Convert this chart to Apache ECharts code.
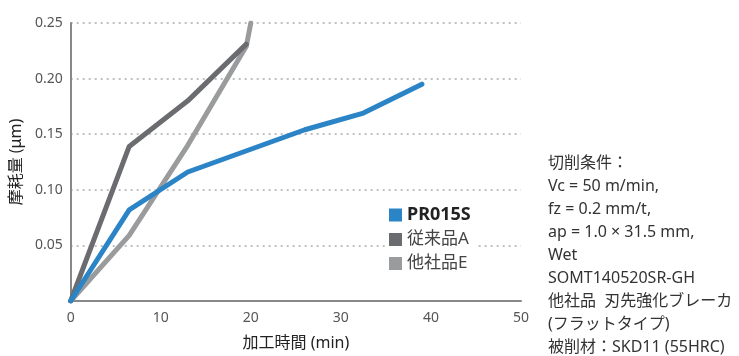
<!DOCTYPE html>
<html>
<head>
<meta charset="utf-8">
<script src="https://cdn.jsdelivr.net/npm/echarts@6/dist/echarts.min.js"></script>
<style>
  html, body { margin: 0; padding: 0; background: #fff; }
  #chart { width: 739px; height: 356px; }
</style>
</head>
<body>
<div id="chart"></div>
<script>
// 加工時間 (min) / 摩耗量 (μm)
const seriesNames = ["PR015S", "従来品A", "他社品E"];
const pr015sData = [[0, 0], [6.5, 0.082], [13, 0.116], [26, 0.154], [32.5, 0.169], [39, 0.195]];
const juraiData = [[0, 0], [6.5, 0.139], [13, 0.18], [19.5, 0.231]];
const tashaData = [[0, 0], [6.5, 0.059], [13, 0.14], [19.5, 0.229], [20, 0.25]];
const colors = ["#2b84c6", "#6b6c6f", "#9a9b9d"];
const noteLines = [
  "切削条件：",
  "Vc = 50 m/min,",
  "fz = 0.2 mm/t,",
  "ap = 1.0 × 31.5 mm,",
  "Wet",
  "SOMT140520SR-GH",
  "他社品  刃先強化ブレーカ",
  "(フラットタイプ)",
  "被削材：SKD11 (55HRC)"
];

const chart = echarts.init(document.getElementById("chart"));
const font = "'Noto Sans', 'Noto Sans CJK JP', sans-serif";

const option = {
  animation: false,
  textStyle: { fontFamily: font },
  grid: { left: 68, right: 218, top: 23, bottom: 53 },
  xAxis: {
    type: "value",
    min: 0,
    max: 50,
    interval: 10,
    name: "加工時間 (min)",
    nameLocation: "middle",
    nameGap: 34,
    nameTextStyle: { color: "#222", fontSize: 16 },
    axisLine: { lineStyle: { color: "#888", width: 2 } },
    axisTick: { show: false },
    splitLine: { show: false },
    axisLabel: { color: "#555", fontSize: 14, margin: 10 }
  },
  yAxis: {
    type: "value",
    min: 0,
    max: 0.25,
    interval: 0.05,
    name: "摩耗量 (μm)",
    nameLocation: "middle",
    nameGap: 42,
    nameTextStyle: { color: "#222", fontSize: 16 },
    axisLine: { show: true, lineStyle: { color: "#888", width: 2 } },
    axisTick: { show: false },
    splitLine: {
      lineStyle: { type: [2, 4], color: "#aaa", width: 1.5 }
    },
    axisLabel: {
      color: "#555",
      fontSize: 14,
      margin: 8,
      formatter: function (v) {
        return v === 0 ? "" : v.toFixed(2);
      }
    }
  },
  legend: {
    left: 385,
    top: 204,
    orient: "vertical",
    icon: "rect",
    itemWidth: 13,
    itemHeight: 13,
    itemGap: 7,
    backgroundColor: "#fff",
    padding: [2, 6, 2, 4],
    textStyle: { color: "#444", fontSize: 17 },
    data: [
      { name: seriesNames[0], textStyle: { fontWeight: "bold", color: "#222", fontSize: 18 } },
      { name: seriesNames[1] },
      { name: seriesNames[2] }
    ]
  },
  series: [
    {
      name: seriesNames[0],
      type: "line",
      data: pr015sData,
      z: 4,
      symbol: "none",
      color: colors[0],
      lineStyle: { width: 5, color: colors[0], cap: "round", join: "round" }
    },
    {
      name: seriesNames[1],
      type: "line",
      data: juraiData,
      z: 3,
      symbol: "none",
      color: colors[1],
      lineStyle: { width: 5, color: colors[1], cap: "round", join: "round" }
    },
    {
      name: seriesNames[2],
      type: "line",
      data: tashaData,
      z: 2,
      symbol: "none",
      color: colors[2],
      lineStyle: { width: 5, color: colors[2], cap: "round", join: "round" }
    }
  ],
  graphic: [
    {
      type: "text",
      left: 548,
      top: 152,
      style: {
        text: noteLines.join("\n"),
        fill: "#333",
        font: "16px " + font,
        lineHeight: 23
      }
    }
  ]
};

chart.setOption(option);
</script>
</body>
</html>
